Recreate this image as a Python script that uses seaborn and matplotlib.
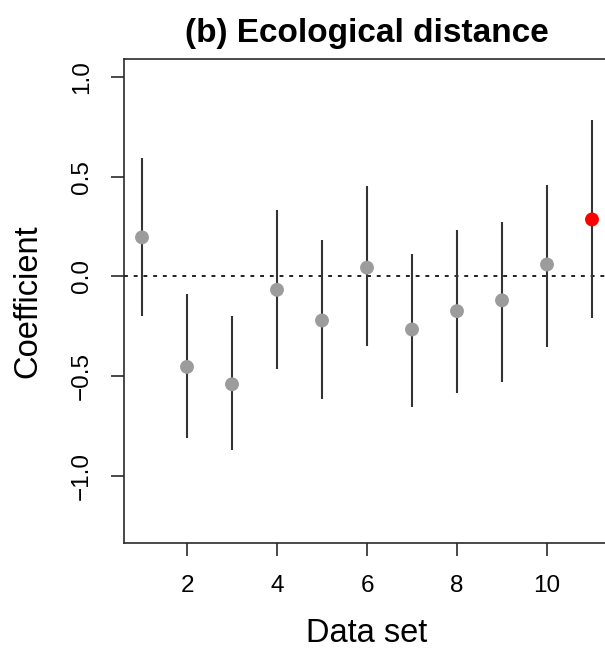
import numpy as np
import pandas as pd
import seaborn as sns
import matplotlib
matplotlib.use("Agg")
import matplotlib.pyplot as plt

# Coefficient estimates and interval ends per data set
data_set = [1, 2, 3, 4, 5, 6, 7, 8, 9, 10, 11]
coef = [0.195, -0.455, -0.542, -0.068, -0.222, 0.043, -0.267, -0.175, -0.121, 0.059, 0.285]
lower = [-0.200, -0.812, -0.871, -0.467, -0.616, -0.350, -0.654, -0.587, -0.532, -0.357, -0.212]
upper = [0.594, -0.090, -0.198, 0.330, 0.180, 0.452, 0.113, 0.234, 0.274, 0.459, 0.782]
highlight = [False] * 10 + [True]
y_ticks = [-1.0, -0.5, 0.0, 0.5, 1.0]
x_ticks = [2, 4, 6, 8, 10]

df = pd.DataFrame({"set": data_set, "coef": coef, "lower": lower,
                   "upper": upper, "highlight": highlight})

sns.set_style("white")
plt.rcParams["font.family"] = ["Liberation Sans", "DejaVu Sans"]
plt.rcParams["text.color"] = "black"
plt.rcParams["axes.labelcolor"] = "black"
plt.rcParams["xtick.color"] = "black"
plt.rcParams["ytick.color"] = "black"

fig = plt.figure(figsize=(6.05, 6.54), dpi=100)
# axes run a little past the right edge, like the cropped original
ax = fig.add_axes([124 / 605, 110.7 / 654, 486 / 605, 484.3 / 654])

ax.axhline(0, color="#222222", lw=1.4, ls=(0, (2, 3)), zorder=1)
ax.vlines(df["set"], df["lower"], df["upper"], color="#333333", lw=1.5, zorder=2)
sns.scatterplot(data=df, x="set", y="coef", hue="highlight",
                palette={False: "#9c9c9c", True: "#ff0000"},
                s=100, edgecolor="none", legend=False, ax=ax, zorder=3)

ax.set_xlim(0.6, 11.4)
ax.set_ylim(-1.34, 1.09)
ax.set_xticks(x_ticks)
ax.set_xticklabels([str(t) for t in x_ticks])
ax.set_yticks(y_ticks)
ax.set_yticklabels([f"{t:.1f}".replace("-", "\u2212") for t in y_ticks],
                   rotation=90, va="center")

for sp in ax.spines.values():
    sp.set_color("#2a2a2a")
    sp.set_linewidth(1.2)

ax.tick_params(axis="both", which="major", length=9.5, width=1.2,
               color="#2a2a2a", labelcolor="black", pad=13, labelsize=17.5,
               direction="out", bottom=True, left=True)

ax.set_xlabel("Data set", fontsize=23.5, color="black")
ax.set_ylabel("Coefficient", fontsize=23.5, color="black")
ax.xaxis.set_label_coords(0.5, -0.155)
ax.yaxis.set_label_coords(-0.165, 0.5)
ax.set_title("(b) Ecological distance", fontsize=24, fontweight="bold",
             pad=12, color="black")

fig.savefig("out.png", dpi=100)
